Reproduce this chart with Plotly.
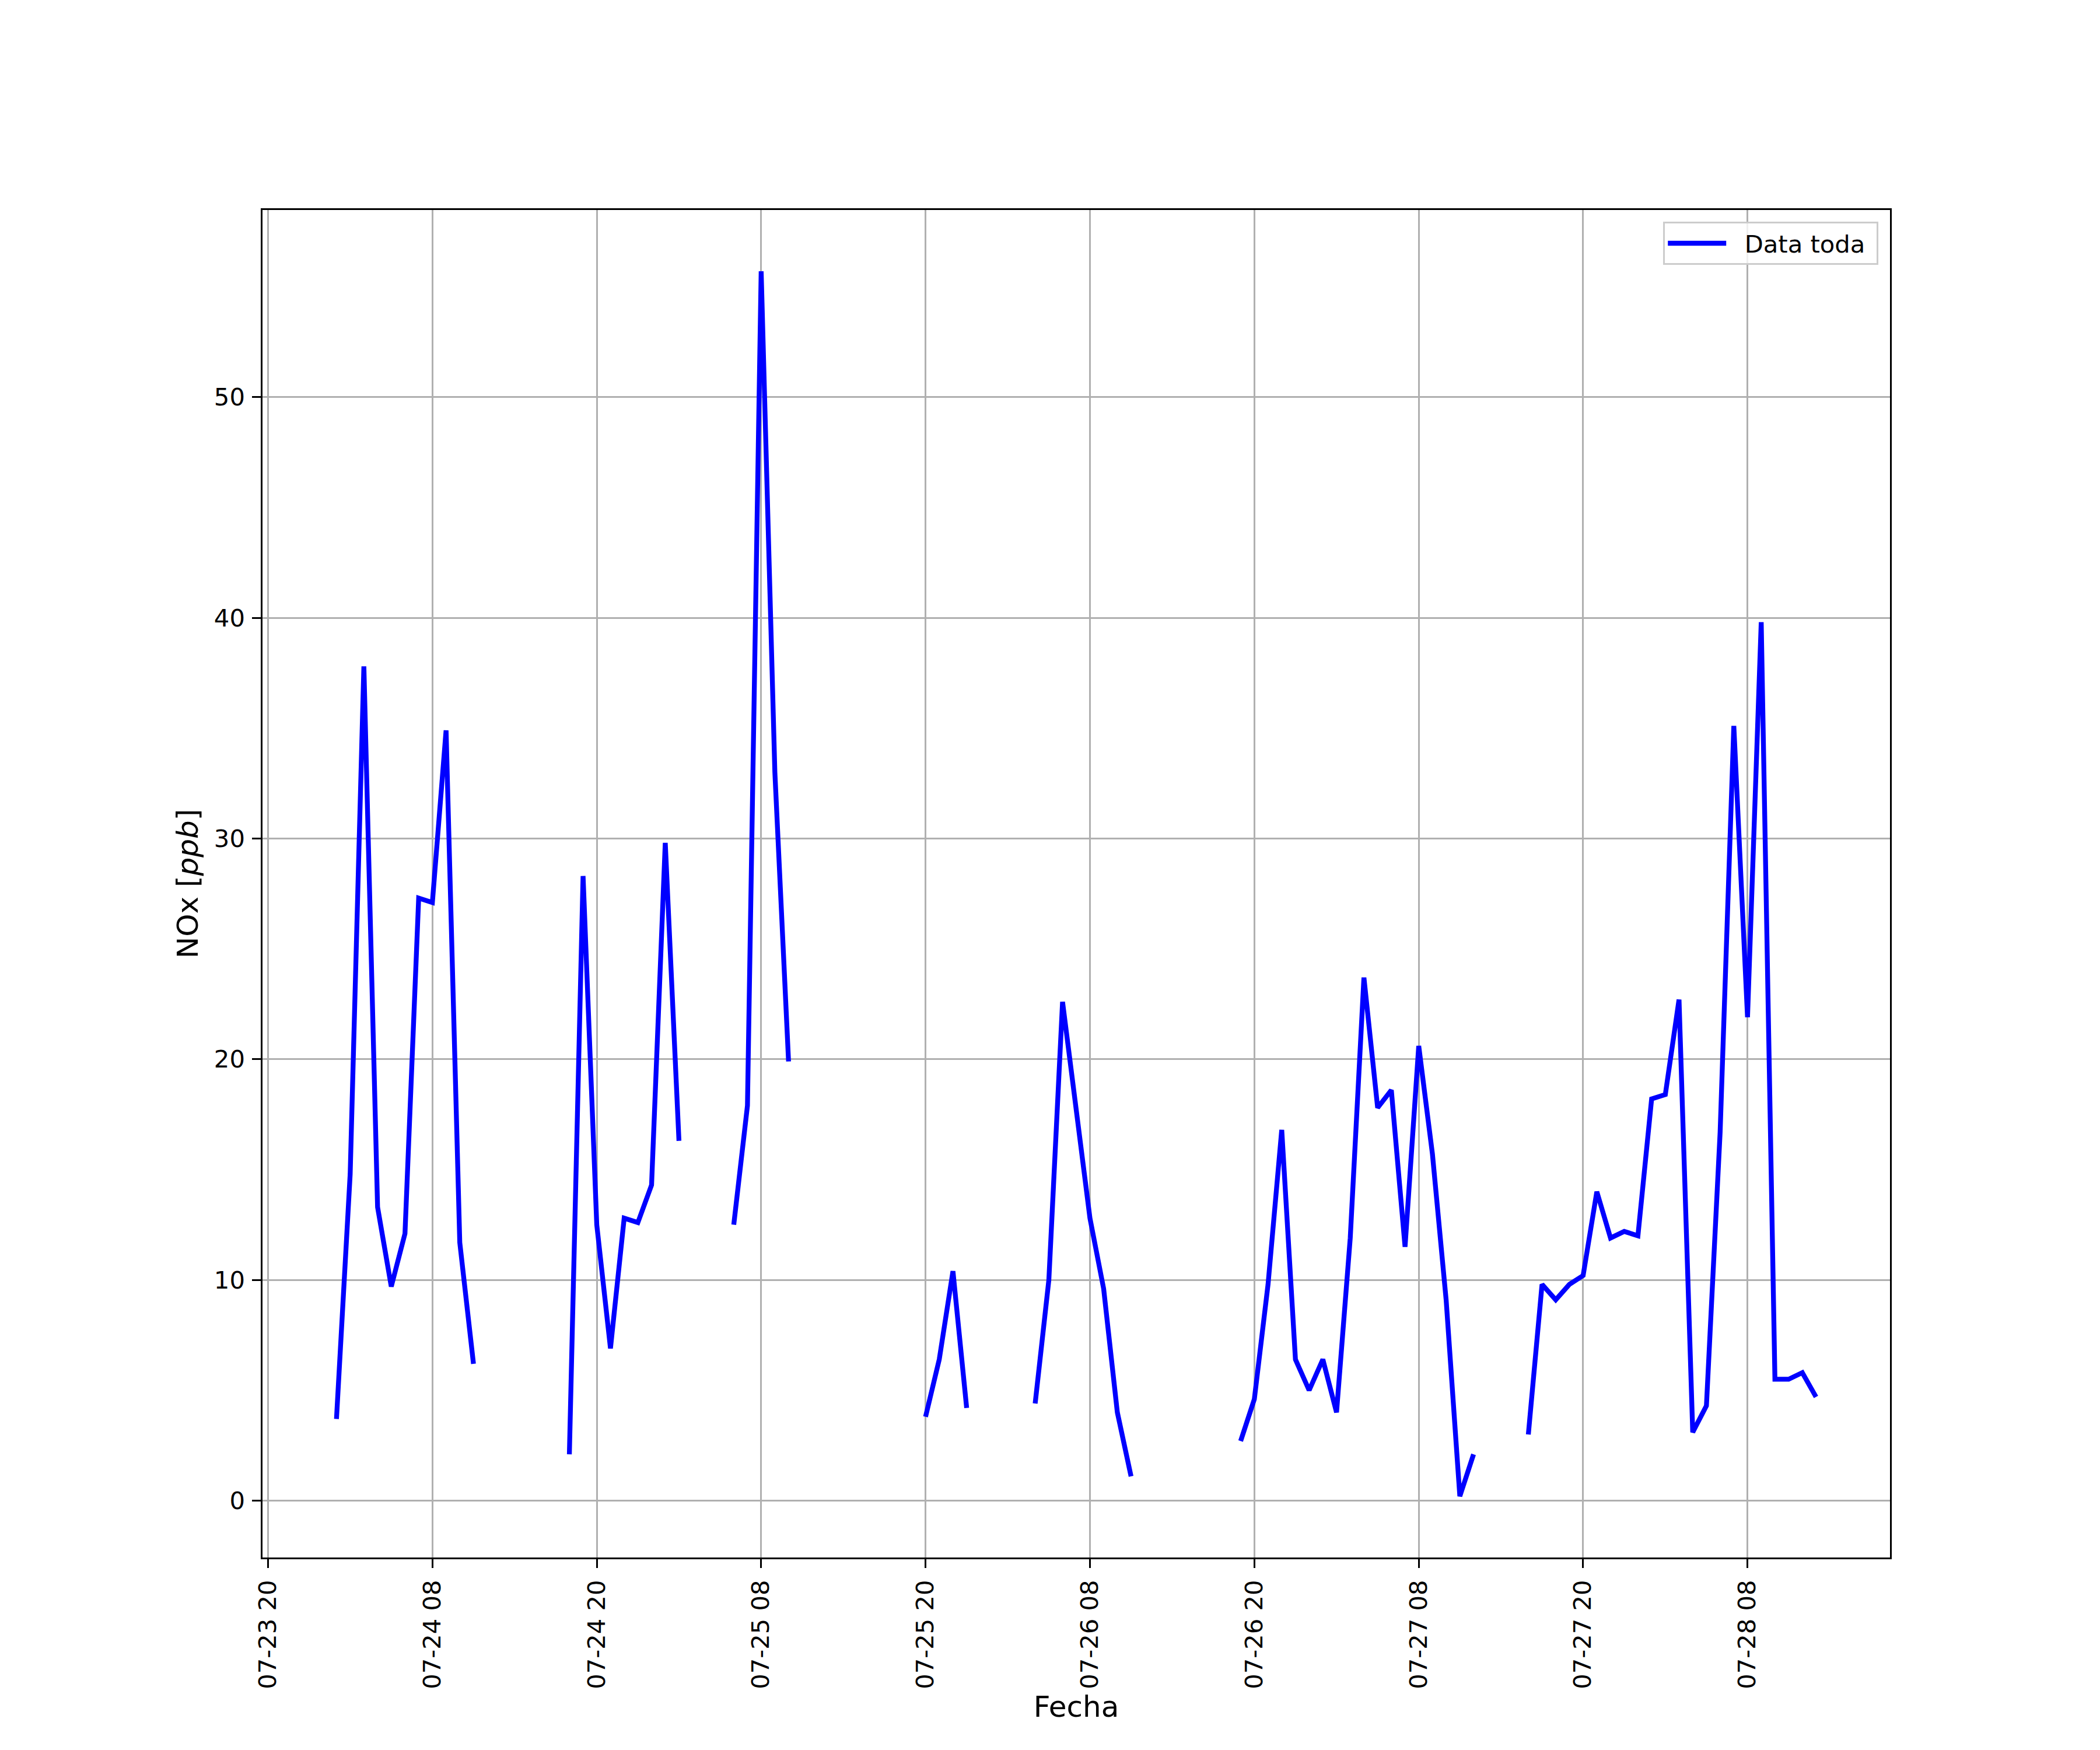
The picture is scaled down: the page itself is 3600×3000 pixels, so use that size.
import plotly.graph_objects as go
import pandas as pd

# hourly NOx readings, runs of consecutive hours separated by missing data
seg_start = ["2019-07-24 01:00", "2019-07-24 18:00", "2019-07-25 06:00", "2019-07-25 20:00",
             "2019-07-26 04:00", "2019-07-26 19:00", "2019-07-27 16:00"]
nox_1 = [3.7, 14.8, 37.8, 13.3, 9.7, 12.1, 27.3, 27.1, 34.9, 11.7, 6.2]
nox_2 = [2.1, 28.3, 12.5, 6.9, 12.8, 12.6, 14.3, 29.8, 16.3]
nox_3 = [12.5, 17.9, 55.7, 33.0, 19.9]
nox_4 = [3.8, 6.4, 10.4, 4.2]
nox_5 = [4.4, 10.0, 22.6, 17.9, 12.8, 9.6, 4.0, 1.1]
nox_6 = [2.7, 4.6, 9.8, 16.8, 6.4, 5.0, 6.4, 4.0, 11.9, 23.7, 17.8, 18.6, 11.5, 20.6,
         15.7, 9.1, 0.2, 2.1]
nox_7 = [3.0, 9.8, 9.1, 9.8, 10.2, 14.0, 11.9, 12.2, 12.0, 18.2, 18.4, 22.7, 3.1, 4.3,
         16.7, 35.1, 21.9, 39.8, 5.5, 5.5, 5.8, 4.7]
segments = [nox_1, nox_2, nox_3, nox_4, nox_5, nox_6, nox_7]

x = []
y = []
for start, vals in zip(seg_start, segments):
    t = pd.date_range(start, periods=len(vals), freq="h")
    x.extend(list(t))
    y.extend(vals)
    # gap -> break the line
    x.append(t[-1] + pd.Timedelta(hours=1))
    y.append(None)
x = x[:-1]
y = y[:-1]

# matplotlib style 5% margins
t0, t1 = x[0], x[-1]
xpad = (t1 - t0) * 0.05
vals = [v for v in y if v is not None]
ypad = (max(vals) - min(vals)) * 0.05

font = "DejaVu Sans"
fig = go.Figure()
fig.add_trace(go.Scatter(x=x, y=y, mode="lines", name="\u00a0\u00a0Data toda\u00a0",
                         line=dict(color="#0000ff", width=8.3)))

axis_common = dict(showline=True, linecolor="black", linewidth=3.3, mirror=True,
                   showgrid=True, gridcolor="#b0b0b0", gridwidth=3.3, zeroline=False,
                   ticks="outside", ticklen=14.6, tickwidth=3.3, tickcolor="black",
                   tickfont=dict(family=font, size=41.7, color="black"))

fig.update_xaxes(range=[t0 - xpad, t1 + xpad], tickformat="%m-%d %H",
                 tick0="2019-07-23 20:00", dtick=12 * 3600 * 1000, tickangle=-90,
                 ticklabelstandoff=4,
                 title=dict(text="Fecha", font=dict(family=font, size=50, color="black"),
                            standoff=14),
                 **axis_common)
fig.update_yaxes(range=[min(vals) - ypad, max(vals) + ypad], dtick=10,
                 ticklabelstandoff=4,
                 title=dict(text="NOx [<i>ppb</i>]", font=dict(family=font, size=50, color="black"),
                            standoff=12),
                 **axis_common)

fig.update_layout(width=3600, height=3000,
                  margin=dict(l=450, r=360, t=360, b=330),
                  plot_bgcolor="white", paper_bgcolor="white",
                  showlegend=True,
                  legend=dict(x=0.9928, y=0.9913, xanchor="right", yanchor="top",
                              bgcolor="rgba(255,255,255,0.8)", bordercolor="#cccccc",
                              borderwidth=3.3, itemwidth=100,
                              font=dict(family=font, size=41.7, color="black")))

fig.write_html("out.html", config={"displayModeBar": False},
               post_script="document.body.style.margin='0';")
